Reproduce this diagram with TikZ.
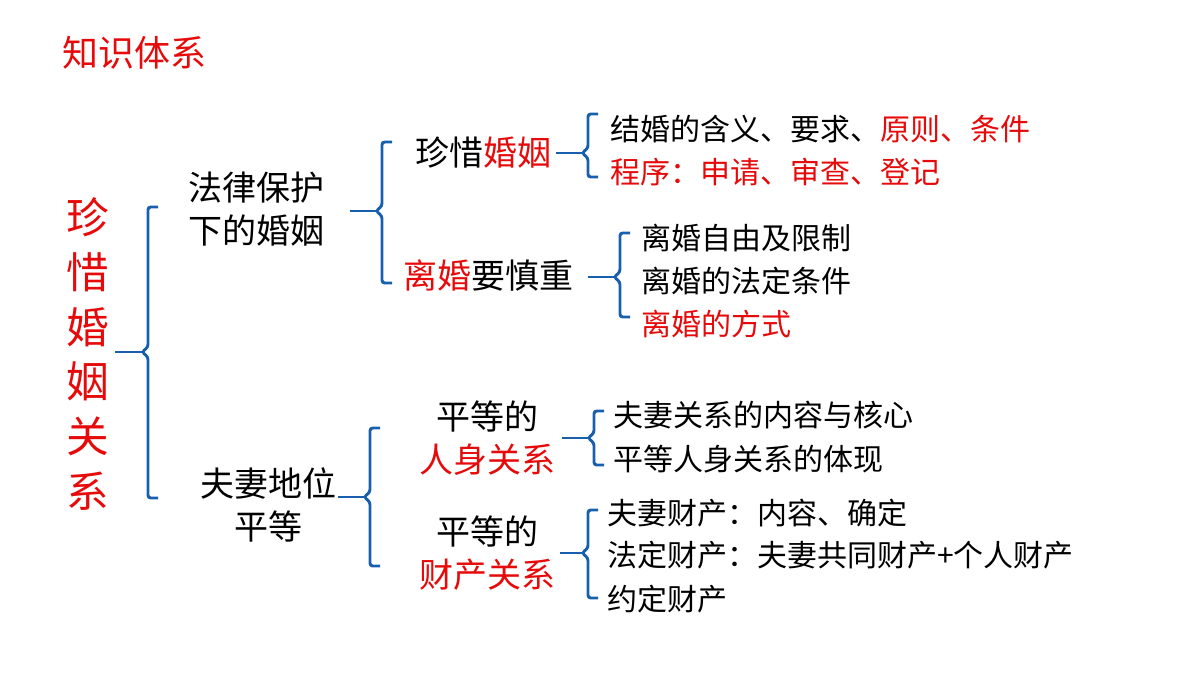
\documentclass[tikz,border=0pt]{standalone}
\usepackage{fontspec}
\setmainfont{Noto Sans CJK SC}
\definecolor{bl}{RGB}{25,95,175}
\definecolor{rd}{RGB}{230,10,10}
\newcommand{\R}[1]{\textcolor{rd}{#1}}
\newcommand{\brc}[6]{% x top bot mid tipx name
  \draw[brc] ($(#1,#2)+(10,0)$) -- (#1,#2) -- (#1,#4-5) -- (#1-6,#4) -- (#1,#4+5) -- (#1,#3) -- ($(#1,#3)+(10,0)$);
  \coordinate (#6) at (#1-6,#4);
  \draw[brc,line width=1.6pt] (#6) -- (#5,#4);}
\usetikzlibrary{calc}
\begin{document}
\begin{tikzpicture}[x=0.75pt,y=-0.75pt,
  brc/.style={draw=bl,line width=2.2pt,rounded corners=2pt},
  t/.style={inner sep=0pt,font=\fontsize{25.5}{32}\selectfont,align=center},
  s/.style={inner sep=0pt,anchor=west,font=\fontsize{22.5}{27}\selectfont},
  u/.style={inner sep=0pt,anchor=west,font=\fontsize{22.5}{25}\selectfont}]
\useasboundingbox (0,0) rectangle (1200,675);
\node[inner sep=0pt,anchor=west,text=rd,font=\fontsize{27}{30}\selectfont] (title) at (62,53) {知识体系};
\node[inner sep=0pt,text=rd,font=\fontsize{32}{41}\selectfont,align=center] (main) at (88,354) {珍\\惜\\婚\\姻\\关\\系};
\brc{148}{207}{498}{352}{115}{b1}
\node[t] (n1) at (256,209) {法律保护\\下的婚姻};
\node[t] (n2) at (268,505) {夫妻地位\\平等};
\brc{382}{142}{283}{211}{350}{b2}
\node[t,anchor=west] (a1) at (415,153) {珍惜\R{婚姻}};
\node[t,anchor=west] (a2) at (403,275) {\R{离婚}要慎重};
\brc{588}{114}{177}{153}{556}{b3}
\node[s] (c1) at (610,129) {结婚的含义、要求、\R{原则、条件}};
\node[s,text=rd] (c2) at (610,172) {程序：申请、审查、登记};
\brc{620}{233}{317}{277}{588}{b4}
\node[s] (d1) at (641,238) {离婚自由及限制};
\node[s] (d2) at (641,281) {离婚的法定条件};
\node[s,text=rd] (d3) at (641,324) {离婚的方式};
\brc{370}{428}{566}{497}{338}{b5}
\node[t] (e1) at (487,438) {平等的\\\R{人身关系}};
\node[t] (e2) at (487,553) {平等的\\\R{财产关系}};
\brc{594}{411}{465}{438}{562}{b6}
\node[u] (f1) at (613,415) {夫妻关系的内容与核心};
\node[u] (f2) at (613,459) {平等人身关系的体现};
\brc{588}{510}{598}{553}{560}{b7}
\node[u] (g1) at (607,513) {夫妻财产：内容、确定};
\node[u] (g2) at (607,555) {法定财产：夫妻共同财产+个人财产};
\node[u] (g3) at (607,599) {约定财产};
\end{tikzpicture}
\end{document}
